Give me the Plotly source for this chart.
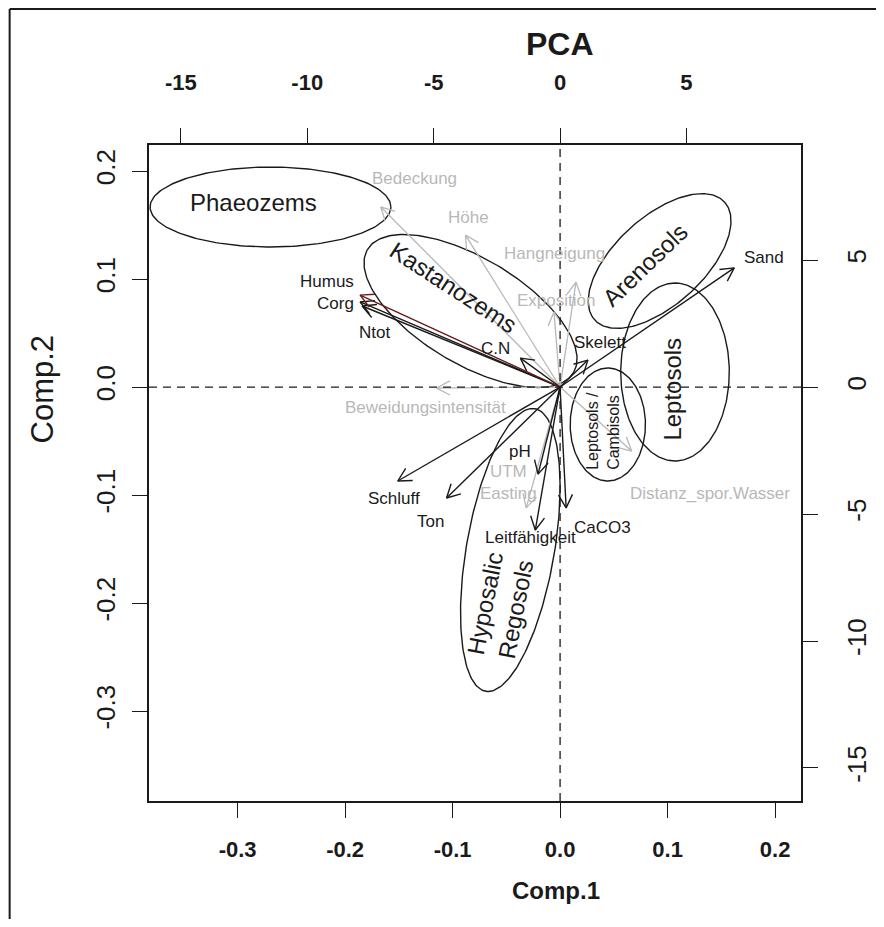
import math
import plotly.graph_objects as go

# ---------------- data ----------------
# loadings (arrow tips, in loading units = top/right axes)
black_vars = ["Sand", "Skelett", "Corg", "Ntot", "C.N", "Schluff", "Ton", "pH", "Leitfähigkeit", "CaCO3"]
black_x = [6.89, 1.10, -7.91, -7.83, -1.57, -6.42, -4.49, -0.87, -0.98, 0.24]
black_y = [4.69, 1.06, 3.35, 3.19, 1.14, -3.70, -4.37, -3.43, -5.63, -4.76]
black_lab_x = [8.07, 1.57, -8.87, -7.33, -2.56, -6.57, -5.12, -1.57, -1.18, 1.69]
black_lab_y = [5.12, 1.77, 3.30, 2.14, 1.50, -4.37, -5.28, -2.52, -5.91, -5.55]

red_vars = ["Humus"]
red_x = [-7.91]
red_y = [3.62]
red_lab_x = [-9.22]
red_lab_y = [4.15]

grey_vars = ["Bedeckung", "Höhe", "Hangneigung", "Exposition", "Beweidungsintensität",
             "UTM<br>Easting", "Distanz_spor.Wasser"]
grey_x = [-7.09, -3.74, 0.63, -0.24, -4.88, -1.34, 2.83]
grey_y = [7.09, 5.98, 4.13, 2.95, -0.04, -4.76, -2.52]
grey_lab_x = [-5.75, -3.62, -0.24, -0.16, -5.31, -2.05, 5.94]
grey_lab_y = [8.23, 6.69, 5.24, 3.39, -0.79, -3.74, -4.21]

# soil-group ellipses (score units = bottom/left axes)
groups = ["Phaeozems", "Kastanozems", "Arenosols", "Leptosols", "Leptosols /<br>Cambisols", "Hyposalic<br>Regosols"]
ell_cx = [-0.2694, -0.0833, 0.0926, 0.1069, 0.0444, -0.0463]
ell_cy = [0.1667, 0.0704, 0.1167, 0.0139, -0.0347, -0.1509]
ell_a = [0.112, 0.1115, 0.0814, 0.0824, 0.0523, 0.1328]
ell_b = [0.037, 0.049, 0.0409, 0.0505, 0.035, 0.0409]
ell_ang = [0, -30.7, 42.0, 90, 90, 80.1]
grp_lab_x = [-0.2852, -0.0991, 0.0796, 0.1046, 0.0398, -0.0556]
grp_lab_y = [0.1713, 0.0926, 0.1130, -0.0019, -0.0407, -0.2028]
grp_lab_ang = [0, 33, -44, -90, -90, -79]
grp_lab_size = [24, 24, 24, 24, 16, 24]

score_ticks = [-0.3, -0.2, -0.1, 0.0, 0.1, 0.2]
score_ticktext = ["-0.3", "-0.2", "-0.1", "0.0", "0.1", "0.2"]
load_ticks = [-15, -10, -5, 0, 5]
load_ticktext = ["-15", "-10", "-5", "0", "5"]

# ---------------- layout constants ----------------
OFF = 8                      # page body margin
W, H = 876, 911
L, R, T, B = 141, 80, 137, 118
xr = [-0.3824, 0.2241]
yr = [-0.3833, 0.2241]
x2r = [-16.26, 9.53]
y2r = [-16.30, 9.53]
FONT = "Liberation Sans, Arial, sans-serif"
BLACK = "#1a1a1a"
GREY = "#b8b8b8"
DARKRED = "#6b1a1a"

fig = go.Figure()

HEAD = 15 / 25.4  # head length in loading units
def arrow_trace(xs, ys, color, width):
    px, py = [], []
    for x, y in zip(xs, ys):
        phi = math.atan2(y, x)
        px += [0, x, None]
        py += [0, y, None]
        a1 = phi + math.radians(28)
        a2 = phi - math.radians(28)
        px += [x - HEAD * math.cos(a1), x, x - HEAD * math.cos(a2), None]
        py += [y - HEAD * math.sin(a1), y, y - HEAD * math.sin(a2), None]
    return go.Scatter(x=px, y=py, mode="lines", xaxis="x2", yaxis="y2",
                      line=dict(color=color, width=width), hoverinfo="skip", showlegend=False)

fig.add_trace(arrow_trace(grey_x, grey_y, GREY, 1.3))
fig.add_trace(arrow_trace(black_x, black_y, BLACK, 1.4))
fig.add_trace(arrow_trace(red_x, red_y, DARKRED, 1.4))

# ellipses
for cx, cy, a, b, ang in zip(ell_cx, ell_cy, ell_a, ell_b, ell_ang):
    th = math.radians(ang)
    ex, ey = [], []
    for i in range(201):
        t = 2 * math.pi * i / 200
        ex.append(cx + a * math.cos(t) * math.cos(th) - b * math.sin(t) * math.sin(th))
        ey.append(cy + a * math.cos(t) * math.sin(th) + b * math.sin(t) * math.cos(th))
    fig.add_trace(go.Scatter(x=ex, y=ey, mode="lines", line=dict(color=BLACK, width=1.4),
                             hoverinfo="skip", showlegend=False))

# dashed zero lines
fig.add_shape(type="line", xref="x", yref="paper", x0=0, x1=0, y0=0, y1=1,
              line=dict(color=BLACK, width=1.3, dash="8px,6px"))
fig.add_shape(type="line", xref="paper", yref="y", x0=0, x1=1, y0=0, y1=0,
              line=dict(color=BLACK, width=1.3, dash="8px,6px"))

ann = []
for names, lx, ly, col in [(black_vars, black_lab_x, black_lab_y, BLACK),
                           (red_vars, red_lab_x, red_lab_y, BLACK),
                           (grey_vars, grey_lab_x, grey_lab_y, GREY)]:
    for n, x, y in zip(names, lx, ly):
        ann.append(dict(text=n, x=x, y=y, xref="x2", yref="y2", showarrow=False,
                        xanchor="center", yanchor="middle",
                        font=dict(family=FONT, size=17, color=col)))
for n, x, y, a, s in zip(groups, grp_lab_x, grp_lab_y, grp_lab_ang, grp_lab_size):
    ann.append(dict(text=n, x=x, y=y, xref="x", yref="y", showarrow=False, textangle=a,
                    xanchor="center", yanchor="middle",
                    align="left" if s < 20 else "center",
                    font=dict(family=FONT, size=s, color=BLACK)))

pw, ph = W - L - R, H - T - B
def px2paper(px, py):
    # page pixel -> paper fraction
    px -= OFF
    py -= OFF
    return (px - L) / pw, (H - B - py) / ph

x_, y_ = px2paper(562, 44)
ann.append(dict(text="<b>PCA</b>", x=x_, y=y_, xref="paper", yref="paper", showarrow=False,
                xanchor="center", yanchor="middle",
                font=dict(family=FONT, size=32, color=BLACK)))
x_, y_ = px2paper(558, 890)
ann.append(dict(text="<b>Comp.1</b>", x=x_, y=y_, xref="paper", yref="paper", showarrow=False,
                xanchor="center", yanchor="middle",
                font=dict(family=FONT, size=24, color=BLACK)))
x_, y_ = px2paper(42, 389)
ann.append(dict(text="Comp.2", x=x_, y=y_, xref="paper", yref="paper", showarrow=False,
                xanchor="center", yanchor="middle",
                textangle=-90, font=dict(family=FONT, size=31, color=BLACK)))

# outer frame (cropped)
fx0, fy0 = px2paper(OFF + 1, OFF + 1)
fx1, fy1 = px2paper(OFF + W, OFF + H)
fig.add_shape(type="line", xref="paper", yref="paper", x0=fx0, x1=fx0, y0=fy0, y1=fy1,
              line=dict(color=BLACK, width=2))
fig.add_shape(type="line", xref="paper", yref="paper", x0=fx0, x1=fx1, y0=fy0, y1=fy0,
              line=dict(color=BLACK, width=2))

axcommon = dict(showgrid=False, zeroline=False, showline=True, linecolor=BLACK, linewidth=1.5,
                ticks="outside", ticklen=15, tickwidth=1.3, tickcolor=BLACK)
fig.update_layout(
    width=W, height=H, margin=dict(l=L, r=R, t=T, b=B, pad=0),
    paper_bgcolor="white", plot_bgcolor="white", showlegend=False,
    annotations=ann,
    xaxis=dict(range=xr, tickvals=score_ticks, ticktext=score_ticktext, side="bottom",
               tickfont=dict(family=FONT, size=22, color=BLACK, weight="bold"),
               ticklabelstandoff=13, **axcommon),
    yaxis=dict(range=yr, tickvals=score_ticks, ticktext=score_ticktext, side="left",
               tickangle=-90, tickfont=dict(family=FONT, size=26, color=BLACK),
               ticklabelstandoff=7, **axcommon),
    xaxis2=dict(range=x2r, tickvals=load_ticks, ticktext=load_ticktext, side="top",
                overlaying="x", tickfont=dict(family=FONT, size=22, color=BLACK, weight="bold"),
                ticklabelstandoff=29, **axcommon),
    yaxis2=dict(range=y2r, tickvals=load_ticks, ticktext=load_ticktext, side="right",
                overlaying="y", tickangle=-90, tickfont=dict(family=FONT, size=26, color=BLACK),
                ticklabelstandoff=17, **axcommon),
)

fig.write_html("out.html")
